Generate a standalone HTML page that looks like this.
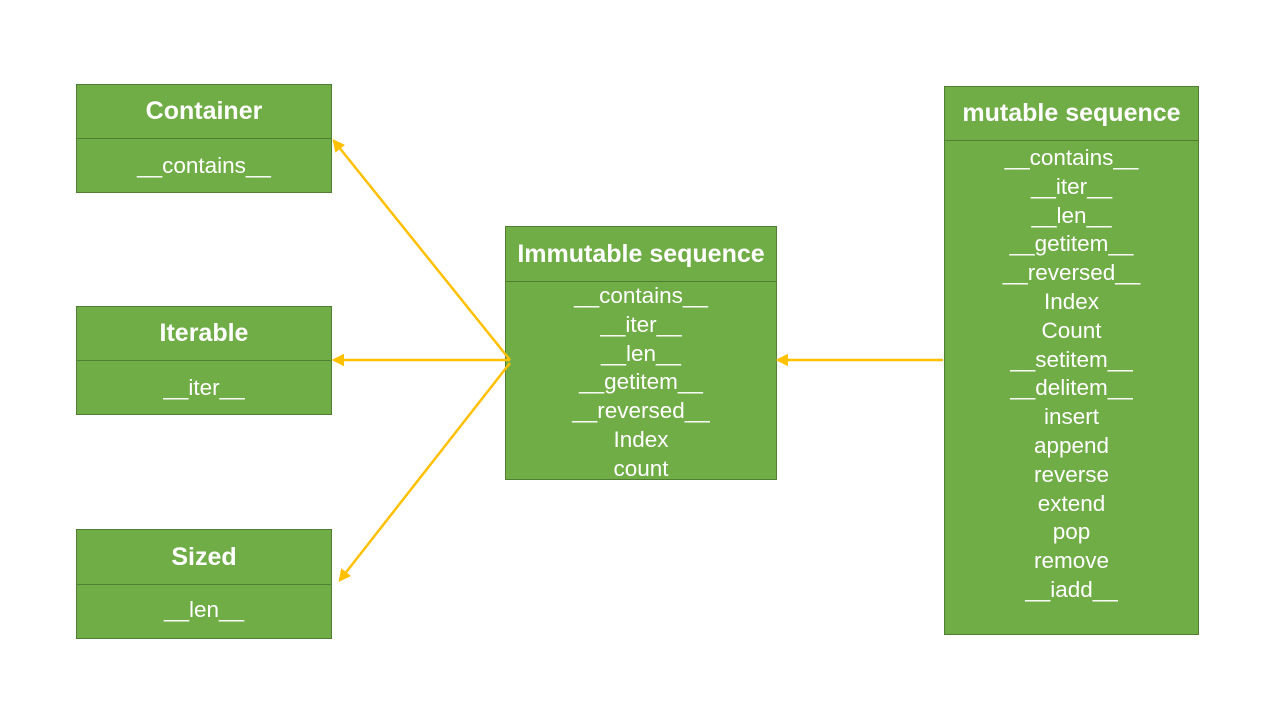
<!DOCTYPE html>
<html><head><style>
body{margin:0;width:1280px;height:720px;background:#fff;position:relative;overflow:hidden;font-family:"Segoe UI","Liberation Sans",sans-serif;}
.b{position:absolute;background:#70ad47;border:1px solid #507e32;box-sizing:border-box;color:#fff;text-align:center;}
.h{font-weight:bold;font-size:25px;display:flex;align-items:center;justify-content:center;}
.t{font-size:22.5px;line-height:28.8px;font-weight:300;}
</style></head><body>
<div class="b h" style="left:76px;top:84px;width:256px;height:55px">Container</div>
<div class="b t" style="left:76px;top:138px;width:256px;height:55px;padding-top:13px">__contains__</div>
<div class="b h" style="left:76px;top:306px;width:256px;height:55px">Iterable</div>
<div class="b t" style="left:76px;top:360px;width:256px;height:55px;padding-top:13px">__iter__</div>
<div class="b h" style="left:76px;top:529px;width:256px;height:56px">Sized</div>
<div class="b t" style="left:76px;top:584px;width:256px;height:55px;padding-top:11px">__len__</div>
<div class="b h" style="left:505px;top:226px;width:272px;height:56px">Immutable sequence</div>
<div class="b t" style="left:505px;top:281px;width:272px;height:199px;padding-top:0px">__contains__<br>__iter__<br>__len__<br>__getitem__<br>__reversed__<br>Index<br>count</div>
<div class="b h" style="left:944px;top:86px;width:255px;height:55px">mutable sequence</div>
<div class="b t" style="left:944px;top:140px;width:255px;height:495px;padding-top:3px">__contains__<br>__iter__<br>__len__<br>__getitem__<br>__reversed__<br>Index<br>Count<br>__setitem__<br>__delitem__<br>insert<br>append<br>reverse<br>extend<br>pop<br>remove<br>__iadd__</div>
<svg width="1280" height="720" style="position:absolute;left:0;top:0">
<defs><marker id="a" markerWidth="5" markerHeight="5" refX="4" refY="2.5" orient="auto" markerUnits="strokeWidth"><path d="M0,0 L5,2.5 L0,5 z" fill="#ffc000"/></marker></defs>
<g stroke="#ffc000" stroke-width="2.5" fill="none" marker-end="url(#a)">
<line x1="510" y1="360" x2="334" y2="141"/>
<line x1="510" y1="360" x2="334" y2="360"/>
<line x1="510" y1="363" x2="340" y2="580"/>
<line x1="943" y1="360" x2="778" y2="360"/>
</g></svg>
</body></html>
